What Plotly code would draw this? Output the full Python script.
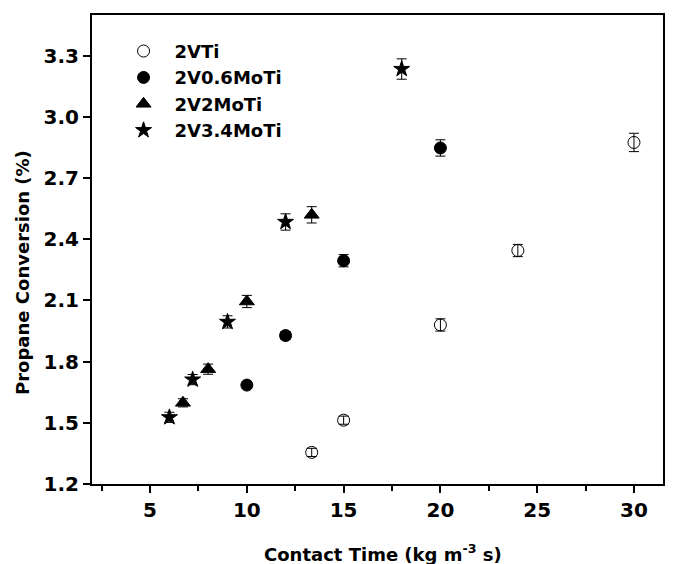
import plotly.graph_objects as go

# contact time (kg m^-3 s) and propane conversion (%) for each catalyst
t_2vti = [13.35, 15, 20, 24, 30]
c_2vti = [1.355, 1.513, 1.98, 2.345, 2.875]
e_2vti = [0.02, 0.02, 0.03, 0.03, 0.045]

t_06mo = [10, 12, 15, 20]
c_06mo = [1.685, 1.928, 2.295, 2.848]
e_06mo = [0.015, 0.02, 0.03, 0.04]

t_2mo = [6.7, 8, 10, 13.35]
c_2mo = [1.598, 1.763, 2.095, 2.52]
e_2mo = [0.02, 0.025, 0.03, 0.04]

t_34mo = [6, 7.2, 9, 12, 18]
c_34mo = [1.527, 1.712, 1.995, 2.485, 3.235]
e_34mo = [0.025, 0.025, 0.03, 0.04, 0.05]

y_ticks = [1.2, 1.5, 1.8, 2.1, 2.4, 2.7, 3.0, 3.3]
x_ticks = [5, 10, 15, 20, 25, 30]

FONT = "DejaVu Sans"

fig = go.Figure()


def add_series(x, y, err, name, symbol, size):
    fig.add_trace(go.Scatter(
        x=x, y=y, mode="markers", name=name,
        marker=dict(symbol=symbol, size=size, color="black",
                    line=dict(color="black", width=1)),
        error_y=dict(type="data", array=err, visible=True,
                     color="black", thickness=1, width=5),
    ))


add_series(t_2vti, c_2vti, e_2vti, "2VTi", "circle-open", 12)
add_series(t_06mo, c_06mo, e_06mo, "2V0.6MoTi", "circle", 12)
add_series(t_2mo, c_2mo, e_2mo, "2V2MoTi", "triangle-up", 13)
add_series(t_34mo, c_34mo, e_34mo, "2V3.4MoTi", "star", 12)

axis_common = dict(
    showline=True, linecolor="black", linewidth=2, mirror=True,
    ticks="outside", tickcolor="black", tickwidth=1.5, ticklen=7,
    showgrid=False, zeroline=False, automargin=False,
    tickfont=dict(family=FONT, size=20, color="black", weight="bold"),
)

fig.update_xaxes(
    range=[2, 31.5], tickvals=x_ticks,
    minor=dict(tickvals=[2.5, 7.5, 12.5, 17.5, 22.5, 27.5], ticks="outside",
               ticklen=5, tickwidth=1.5, tickcolor="black"),
    **axis_common,
)
fig.update_yaxes(
    range=[1.2, 3.5], tickvals=y_ticks, tickformat=".1f",
    **axis_common,
)

title_font = dict(family=FONT, size=18, color="black", weight="bold")

# axis titles as annotations so they can sit where the original has them
fig.add_annotation(
    text="Contact Time (kg m<sup>-3</sup> s)",
    xref="paper", yref="paper", x=0.51, y=0,
    xanchor="center", yanchor="middle", yshift=-69, showarrow=False,
    font=title_font,
)
fig.add_annotation(
    text="Propane Conversion (%)", textangle=-90,
    xref="paper", yref="paper", x=0, y=0.45,
    xanchor="center", yanchor="middle", xshift=-69, showarrow=False,
    font=title_font,
)

fig.update_layout(
    width=673, height=564,
    margin=dict(l=84, r=18, t=7, b=88),
    plot_bgcolor="white", paper_bgcolor="white",
    legend=dict(x=0.036, y=0.962, xanchor="left", yanchor="top",
                bgcolor="rgba(0,0,0,0)", tracegroupgap=0, itemwidth=52,
                font=dict(family=FONT, size=18, color="black", weight="bold")),
)

fig.write_html("out.html")
